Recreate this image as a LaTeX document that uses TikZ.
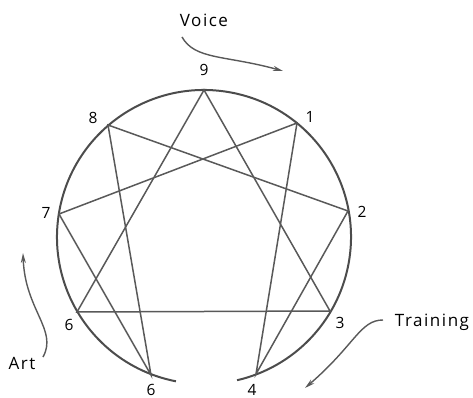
\documentclass[tikz,border=0pt]{standalone}
\usepackage{fontspec}
\setmainfont{Open Sans}
\newfontfamily\wordfont{Open Sans}[LetterSpace=9]
\usetikzlibrary{arrows.meta}
\begin{document}
\begin{tikzpicture}[x=1pt,y=-1pt,
  ring/.style={draw=black!70, line width=2pt},
  chord/.style={draw=black!65, line width=1.5pt},
  num/.style={font=\fontsize{15.5}{15.5}\selectfont, text=black, inner sep=0pt},
  word/.style={font=\wordfont\fontsize{17}{17}\selectfont, text=black, inner sep=0pt},
  flow/.style={draw=black!65, line width=1.4pt, -{Stealth[length=10pt,width=5pt]}}]
\useasboundingbox (0,0) rectangle (473,398);
% vertices
\coordinate (c) at (204,237);
\coordinate (p9) at (204,90);
\coordinate (p1) at (297,123);
\coordinate (p2) at (348,211);
\coordinate (p3) at (330,311);
\coordinate (p4) at (256,374);
\coordinate (p5) at (151,375);
\coordinate (p6) at (77,312);
\coordinate (p7) at (59,214);
\coordinate (p8) at (108,125);
% circle with gap at bottom (y axis points down, so angles run clockwise)
\draw[ring] (c) ++(101:147) arc[start angle=101, end angle=437, radius=147];
% chords
\draw[chord] (p9) -- (p3) -- (p6) -- cycle;
\draw[chord] (p1) -- (p4) -- (p2) -- (p8) -- (p5) -- (p7) -- cycle;
% numbers
\node[num] (n9) at (204,70) {9};
\node[num] (n1) at (310,117) {1};
\node[num] (n8) at (93,118) {8};
\node[num] (n2) at (362,212) {2};
\node[num] (n7) at (46,213) {7};
\node[num] (n6a) at (69,325) {6};
\node[num] (n3) at (340,323) {3};
\node[num] (n6b) at (151,390) {6};
\node[num] (n4) at (252,390) {4};
% words
\node[word] (voice) at (204,20) {Voice};
\node[word] (training) at (432,322) {Training};
\node[word] (art) at (22,363) {Art};
% flow arrows
\coordinate (va) at (182,37);
\coordinate (vb) at (283,71);
\draw[flow] (va) .. controls (195,60) and (225,55) .. (vb);
\coordinate (ta) at (383,320);
\coordinate (tb) at (305,388);
\draw[flow] (ta) .. controls (360,320) and (355,345) .. (tb);
\coordinate (aa) at (43,357);
\coordinate (ab) at (23,253);
\draw[flow] (aa) .. controls (58,330) and (25,310) .. (ab);
\end{tikzpicture}
\end{document}
